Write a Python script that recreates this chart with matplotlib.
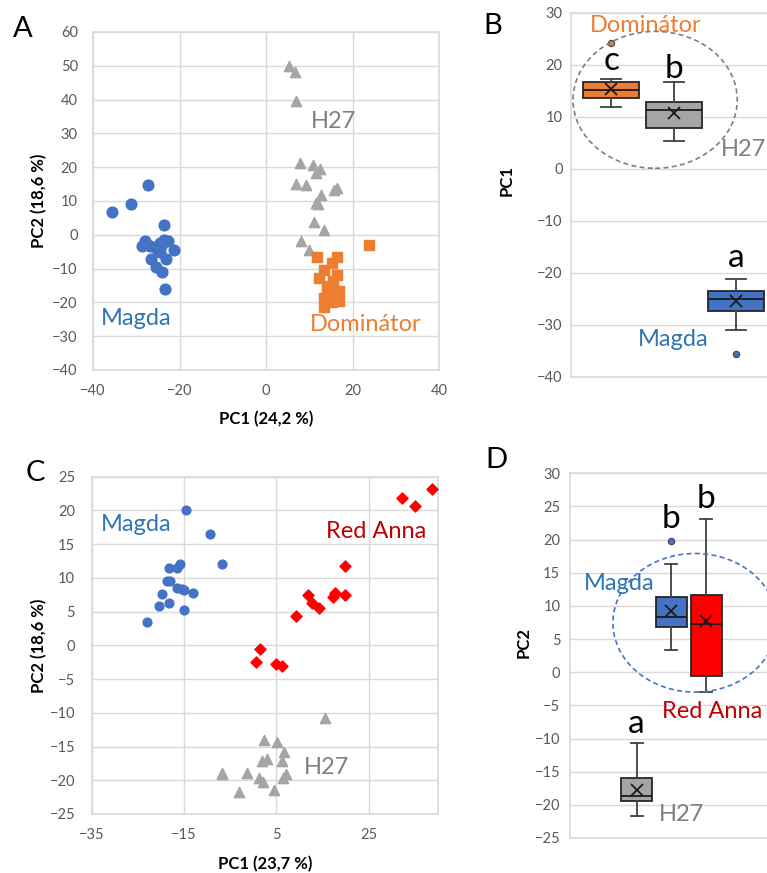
import numpy as np
import matplotlib
matplotlib.use("Agg")
import matplotlib.pyplot as plt
from matplotlib.patches import Ellipse

plt.rcParams['font.family'] = ['Lato', 'DejaVu Sans']

# colours
BLUE = '#4472c4'
ORANGE = '#ed7d31'
GRAY = '#a5a5a5'
RED = '#ff0000'
TXT_BLUE = '#2e75b6'
TXT_GRAY = '#808080'
TXT_RED = '#c00000'
GRID = '#d9d9d9'
TICK = '#595959'

# ---- panel A data (PC1 vs PC2) ----
a_magda_x = [-27.2, -31.2, -35.7, -23.5, -28.1, -28.6, -26.9, -24.6, -23.5, -22.7,
             -21.3, -24.6, -26.5, -23.1, -25.4, -24.0, -23.3, -24.2, -25.2]
a_magda_y = [14.6, 9.1, 6.6, 3.0, -1.7, -3.2, -3.4, -2.3, -1.5, -1.8,
             -4.4, -5.2, -7.2, -7.2, -9.4, -11.1, -15.9, -3.4, -4.2]
a_h27_x = [5.2, 6.8, 6.9, 7.9, 10.9, 12.5, 11.5, 6.9, 9.2, 16.4, 15.8, 12.8,
           11.5, 12.0, 11.2, 13.5, 8.2, 10.0]
a_h27_y = [50.0, 48.3, 39.6, 21.2, 20.7, 19.4, 18.2, 15.1, 14.8, 13.8, 13.1, 11.8,
           9.4, 9.1, 3.8, 1.5, -1.7, -4.4]
a_dom_x = [23.7, 11.7, 16.3, 15.2, 13.5, 16.5, 12.3, 15.4, 14.2, 14.8, 16.9,
           13.5, 16.9, 15.2, 13.3, 14.2]
a_dom_y = [-3.0, -6.7, -6.6, -8.4, -10.5, -11.8, -12.8, -13.8, -15.3, -16.7, -16.7,
           -18.7, -19.5, -20.0, -21.4, -18.2]

# ---- panel C data ----
c_magda_x = [-14.5, -9.3, -6.7, -15.8, -16.5, -18.2, -18.6, -18.0, -16.6, -15.5,
             -15.0, -13.0, -19.8, -20.4, -18.2, -14.9, -23.1]
c_magda_y = [20.0, 16.5, 12.1, 12.1, 11.4, 11.5, 9.6, 9.6, 8.5, 8.4,
             8.2, 7.7, 7.6, 5.8, 6.3, 5.3, 3.4]
c_red_x = [38.8, 32.2, 35.1, 19.8, 11.9, 12.7, 14.2, 17.2, 17.8, 19.8, 9.3,
           1.5, 0.5, 5.0, 6.2]
c_red_y = [23.2, 21.9, 20.6, 11.8, 7.5, 6.3, 5.5, 7.1, 7.7, 7.5, 4.3,
           -0.6, -2.4, -2.8, -3.1]
c_h27_x = [15.6, 2.3, 5.1, 6.7, 1.8, 3.0, 6.2, -6.8, -6.8, -1.4, 1.2, 2.1,
           7.1, 6.4, 4.6, -3.0]
c_h27_y = [-10.7, -14.1, -14.4, -15.8, -17.1, -16.8, -17.1, -18.9, -19.1, -18.9,
           -19.6, -20.2, -19.0, -19.6, -21.4, -21.7]

# ---- panel B box summaries (PC1) ----
b_names = ['Dominátor', 'H27', 'Magda']
b_whislo = [11.8, 5.3, -31.0]
b_q1 = [13.6, 7.9, -27.3]
b_med = [15.2, 11.2, -25.0]
b_q3 = [16.6, 12.8, -23.4]
b_whishi = [17.2, 16.6, -21.2]
b_mean = [15.4, 10.7, -25.5]
b_fliers = [[24.2], [], [-35.6]]
b_letters = ['c', 'b', 'a']

# ---- panel D box summaries (PC2) ----
d_names = ['H27', 'Magda', 'Red Anna']
d_whislo = [-21.7, 3.3, -3.0]
d_q1 = [-19.4, 6.8, -0.5]
d_med = [-18.7, 8.3, 7.2]
d_q3 = [-15.9, 11.3, 11.7]
d_whishi = [-10.7, 16.3, 23.1]
d_mean = [-17.7, 9.3, 7.7]
d_fliers = [[], [19.8], []]
d_letters = ['a', 'b', 'b']


def style_axes(ax):
    for s in ax.spines.values():
        s.set_color(GRID)
        s.set_linewidth(1.2)
    ax.tick_params(length=0, labelsize=10.5, labelcolor=TICK)
    ax.grid(True, color=GRID, linewidth=1.0)
    ax.set_axisbelow(True)


def draw_boxes(ax, names, whislo, q1, med, q3, whishi, mean, fliers, colors, width, capw):
    stats = []
    for i in range(len(names)):
        stats.append(dict(label=names[i], whislo=whislo[i], q1=q1[i], med=med[i],
                          q3=q3[i], whishi=whishi[i], mean=mean[i], fliers=fliers[i]))
    res = ax.bxp(stats, positions=range(1, len(names) + 1), widths=width,
                 patch_artist=True, showmeans=True, capwidths=capw,
                 boxprops=dict(edgecolor='#262626', linewidth=1.3),
                 medianprops=dict(color='#1a1a1a', linewidth=1.3),
                 whiskerprops=dict(color='#404040', linewidth=1.3),
                 capprops=dict(color='#404040', linewidth=1.3),
                 meanprops=dict(marker='x', markeredgecolor='#1a1a1a', markersize=9,
                                markeredgewidth=1.3))
    for patch, c in zip(res['boxes'], colors):
        patch.set_facecolor(c)
    for fl, c in zip(res['fliers'], colors):
        fl.set(marker='o', markerfacecolor=c, markeredgecolor='#404040',
               markersize=4.5, markeredgewidth=0.8)


fig = plt.figure(figsize=(7.67, 8.73), dpi=100)

# ---------------- A ----------------
axA = fig.add_axes([0.1213, 0.5762, 0.4511, 0.3872])
style_axes(axA)
axA.scatter(a_magda_x, a_magda_y, s=60, marker='o', color=BLUE, zorder=3)
axA.scatter(a_h27_x, a_h27_y, s=55, marker='^', color=GRAY, zorder=3)
axA.scatter(a_dom_x, a_dom_y, s=42, marker='s', color=ORANGE, zorder=3)
axA.set_xlim(-40, 40)
axA.set_ylim(-40, 60)
axA.set_xticks([-40, -20, 0, 20, 40])
axA.set_yticks(np.arange(-40, 61, 10))
axA.tick_params(axis='x', pad=10)
axA.tick_params(axis='y', pad=11)
axA.text(10.4, 31.5, 'H27', color=TXT_GRAY, fontsize=17)
axA.text(-38.3, -26.6, 'Magda', color=TXT_BLUE, fontsize=17)
axA.text(10.15, -28.4, 'Dominátor', color=ORANGE, fontsize=17)
axA.set_xlabel('PC1 (24,2 %)', fontsize=12, fontweight='bold')
axA.set_ylabel('PC2 (18,6 %)', fontsize=12, fontweight='bold')
axA.xaxis.set_label_coords(0.5, -0.122)
axA.yaxis.set_label_coords(-0.133, 0.5)

# ---------------- B ----------------
axB = fig.add_axes([0.7445, 0.5682, 0.266, 0.4173])
style_axes(axB)
axB.grid(False, axis='x')
draw_boxes(axB, b_names, b_whislo, b_q1, b_med, b_q3, b_whishi, b_mean, b_fliers,
           [ORANGE, GRAY, BLUE], 0.9, 0.32)
axB.set_xlim(0.36, 3.62)
axB.set_ylim(-40, 30)
axB.set_yticks(np.arange(-40, 31, 10))
axB.set_xticks([])
axB.tick_params(axis='y', pad=6)
for i, let in enumerate(b_letters):
    axB.text(i + 1, [19.0, 17.4, -18.8][i], let, fontsize=24, ha='center')
axB.text(0.664, 26.3, 'Dominátor', color=ORANGE, fontsize=17)
axB.text(2.76, 2.4, 'H27', color=TXT_GRAY, fontsize=17)
axB.text(1.43, -34.0, 'Magda', color=TXT_BLUE, fontsize=17)
axB.add_patch(Ellipse((1.704, 13.25), 2.624, 26.3, fill=False, edgecolor='#7f7f7f',
                      linestyle=(0, (3, 2)), linewidth=1.2, zorder=4))
axB.set_ylabel('PC1', fontsize=12, fontweight='bold')
axB.yaxis.set_label_coords(-0.275, 0.538)

# ---------------- C ----------------
axC = fig.add_axes([0.1196, 0.0676, 0.4511, 0.3864])
style_axes(axC)
axC.scatter(c_magda_x, c_magda_y, s=40, marker='o', color=BLUE, zorder=3)
axC.scatter(c_red_x, c_red_y, s=32, marker='D', color=RED, zorder=3)
axC.scatter(c_h27_x, c_h27_y, s=55, marker='^', color=GRAY, zorder=3)
axC.set_xlim(-35, 40)
axC.set_ylim(-25, 25)
axC.set_xticks([-35, -15, 5, 25])
axC.set_yticks(np.arange(-25, 26, 5))
axC.tick_params(axis='x', pad=10)
axC.tick_params(axis='y', pad=12)
axC.text(-33.0, 16.9, 'Magda', color=TXT_BLUE, fontsize=17)
axC.text(15.8, 15.9, 'Red Anna', color=TXT_RED, fontsize=17)
axC.text(10.9, -19.0, 'H27', color=TXT_GRAY, fontsize=17)
axC.set_xlabel('PC1 (23,7 %)', fontsize=12, fontweight='bold')
axC.set_ylabel('PC2 (18,6 %)', fontsize=12, fontweight='bold')
axC.xaxis.set_label_coords(0.5, -0.125)
axC.yaxis.set_label_coords(-0.129, 0.5)

# ---------------- D ----------------
axD = fig.add_axes([0.7432, 0.0401, 0.2647, 0.4178])
style_axes(axD)
axD.grid(False, axis='x')
draw_boxes(axD, d_names, d_whislo, d_q1, d_med, d_q3, d_whishi, d_mean, d_fliers,
           [GRAY, BLUE, RED], 0.89, 0.34)
axD.set_xlim(-0.92, 4.93)
axD.set_ylim(-25, 30)
axD.set_yticks(np.arange(-25, 31, 5))
axD.set_xticks([])
axD.tick_params(axis='y', pad=7)
for i, let in enumerate(d_letters):
    axD.text(i + 1, [-9.2, 21.8, 24.8][i], let, fontsize=24, ha='center')
axD.text(-0.52, 12.4, 'Magda', color=TXT_BLUE, fontsize=17)
axD.text(1.72, -6.9, 'Red Anna', color=TXT_RED, fontsize=17)
axD.text(1.64, -22.5, 'H27', color=TXT_GRAY, fontsize=17)
axD.add_patch(Ellipse((2.68, 7.45), 4.73, 20.9, fill=False, edgecolor=BLUE,
                      linestyle=(0, (3, 2)), linewidth=1.2, zorder=4))
axD.set_ylabel('PC2', fontsize=12, fontweight='bold')
axD.yaxis.set_label_coords(-0.187, 0.535)

# panel letters
fig.text(13 / 767, 1 - 37 / 873, 'A', fontsize=21)
fig.text(483 / 767, 1 - 34 / 873, 'B', fontsize=21)
fig.text(26 / 767, 1 - 481 / 873, 'C', fontsize=21)
fig.text(485 / 767, 1 - 468 / 873, 'D', fontsize=21)

fig.savefig('out.png', dpi=100)
